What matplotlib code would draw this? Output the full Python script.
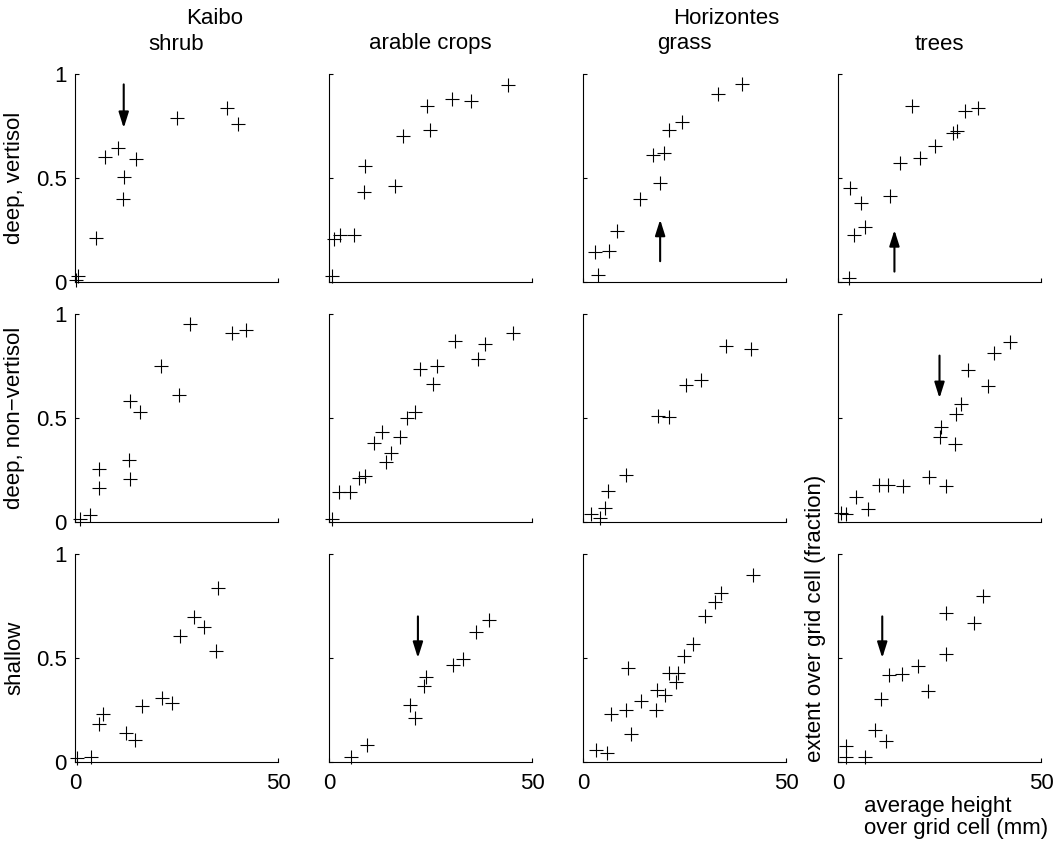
import matplotlib
matplotlib.use("Agg")
import matplotlib.pyplot as plt

plt.rcParams['font.family'] = ['Liberation Sans', 'DejaVu Sans']
plt.rcParams['font.size'] = 16

W, H = 1056, 847

# row / column labels
sites = ['Kaibo', 'Horizontes']
cover = ['shrub', 'arable crops', 'grass', 'trees']
soils = ['deep, vertisol', 'deep, non\u2212vertisol', 'shallow']

# average height (mm) and extent (fraction) per panel, row = soil, col = cover
shrub_vert_x = [0.2, 0.8, 5.1, 7.4, 10.5, 15.0, 12.0, 11.7, 25.0, 37.4, 40.1]
shrub_vert_y = [0.01, 0.03, 0.21, 0.60, 0.645, 0.59, 0.505, 0.40, 0.79, 0.835, 0.76]
crops_vert_x = [0.8, 1.3, 2.7, 6.2, 8.5, 8.9, 16.3, 18.3, 24.1, 24.9, 30.3, 35.0, 44.0]
crops_vert_y = [0.03, 0.205, 0.228, 0.228, 0.432, 0.557, 0.462, 0.70, 0.846, 0.732, 0.88, 0.868, 0.947]
grass_vert_x = [3.7, 2.9, 6.4, 8.4, 14.1, 19.0, 17.2, 20.0, 21.2, 24.4, 33.2, 39.1]
grass_vert_y = [0.032, 0.145, 0.151, 0.244, 0.398, 0.475, 0.61, 0.618, 0.729, 0.769, 0.904, 0.952]
trees_vert_x = [2.7, 2.9, 5.6, 3.9, 6.7, 12.7, 15.3, 20.3, 24.0, 18.3, 28.4, 29.3, 31.4, 34.6]
trees_vert_y = [0.017, 0.453, 0.382, 0.228, 0.263, 0.414, 0.573, 0.594, 0.654, 0.847, 0.717, 0.725, 0.82, 0.836]

shrub_nonv_x = [1.2, 3.6, 6.0, 6.0, 13.6, 16.1, 13.4, 13.6, 21.2, 25.5, 28.3, 38.6, 42.1]
shrub_nonv_y = [0.014, 0.035, 0.254, 0.162, 0.581, 0.53, 0.30, 0.206, 0.752, 0.61, 0.951, 0.908, 0.921]
crops_nonv_x = [0.7, 2.5, 5.2, 7.4, 8.9, 14.1, 15.3, 11.1, 13.0, 17.5, 19.2, 21.2, 22.4, 26.5,
                25.6, 31.1, 36.8, 38.5, 45.2]
crops_nonv_y = [0.013, 0.143, 0.146, 0.21, 0.223, 0.287, 0.331, 0.379, 0.435, 0.411, 0.498, 0.529,
                0.736, 0.748, 0.664, 0.871, 0.785, 0.857, 0.911]
grass_nonv_x = [1.9, 4.3, 5.3, 6.1, 10.6, 18.5, 21.1, 25.3, 29.0, 35.3, 41.4]
grass_nonv_y = [0.04, 0.021, 0.068, 0.148, 0.228, 0.512, 0.507, 0.659, 0.683, 0.848, 0.832]
trees_nonv_x = [0.8, 1.9, 4.5, 7.4, 10.2, 12.3, 16.1, 22.5, 26.6, 25.2, 25.4, 28.7, 29.1, 30.2,
                32.0, 37.0, 38.4, 42.4]
trees_nonv_y = [0.043, 0.038, 0.12, 0.064, 0.179, 0.179, 0.171, 0.214, 0.174, 0.411, 0.459, 0.376,
                0.519, 0.565, 0.732, 0.654, 0.814, 0.865]

shrub_shal_x = [0.4, 4.0, 6.0, 7.0, 12.6, 14.9, 16.5, 21.5, 24.0, 25.9, 29.2, 31.7, 34.7, 35.1]
shrub_shal_y = [0.021, 0.024, 0.182, 0.23, 0.14, 0.108, 0.267, 0.306, 0.283, 0.606, 0.695, 0.648,
                0.532, 0.838]
crops_shal_x = [5.4, 9.3, 20.0, 21.1, 23.3, 23.9, 30.5, 33.1, 36.2, 39.3]
crops_shal_y = [0.024, 0.084, 0.275, 0.211, 0.367, 0.41, 0.465, 0.494, 0.627, 0.684]
grass_shal_x = [3.1, 6.0, 6.9, 10.5, 11.8, 11.0, 14.3, 18.0, 18.2, 20.3, 21.1, 23.3, 22.9, 24.9,
                27.2, 30.1, 32.5, 33.9, 41.8]
grass_shal_y = [0.06, 0.044, 0.232, 0.248, 0.137, 0.451, 0.292, 0.252, 0.348, 0.324, 0.43, 0.427,
                0.383, 0.51, 0.567, 0.70, 0.768, 0.811, 0.899]
trees_shal_x = [2.0, 2.0, 6.7, 9.2, 11.7, 10.7, 12.5, 15.8, 19.7, 22.1, 26.6, 26.6, 33.4, 35.8]
trees_shal_y = [0.079, 0.025, 0.025, 0.155, 0.103, 0.302, 0.416, 0.424, 0.46, 0.34, 0.52, 0.714,
                0.667, 0.798]

panels = [
    [(shrub_vert_x, shrub_vert_y), (crops_vert_x, crops_vert_y),
     (grass_vert_x, grass_vert_y), (trees_vert_x, trees_vert_y)],
    [(shrub_nonv_x, shrub_nonv_y), (crops_nonv_x, crops_nonv_y),
     (grass_nonv_x, grass_nonv_y), (trees_nonv_x, trees_nonv_y)],
    [(shrub_shal_x, shrub_shal_y), (crops_shal_x, crops_shal_y),
     (grass_shal_x, grass_shal_y), (trees_shal_x, trees_shal_y)],
]

# highlighted cells: (row, col, x, y_tail, y_head)
arrows = [
    (0, 0, 12.0, 0.95, 0.74),
    (0, 2, 19.0, 0.10, 0.30),
    (0, 3, 13.9, 0.05, 0.25),
    (1, 3, 25.0, 0.80, 0.595),
    (2, 1, 21.9, 0.70, 0.50),
    (2, 3, 10.9, 0.70, 0.50),
]

col_left = [75, 329, 583, 838]
row_bottom = [282, 522, 762]
ax_w, ax_h = 203, 208

fig = plt.figure(figsize=(W / 100, H / 100), dpi=100)

axes = {}
for r in range(3):
    for c in range(4):
        ax = fig.add_axes([col_left[c] / W, 1 - row_bottom[r] / H, ax_w / W, ax_h / H])
        x, y = panels[r][c]
        ax.plot(x, y, '+', color='k', markersize=9.5, markeredgewidth=0.8, clip_on=False)
        ax.set_xlim(0, 50)
        ax.set_ylim(0, 1)
        ax.set_xticks([0, 50])
        ax.set_yticks([0, 0.5, 1])
        ax.set_yticklabels(['0', '0.5', '1'])
        for s in ['top', 'right']:
            ax.spines[s].set_visible(False)
        for s in ['left', 'bottom']:
            ax.spines[s].set_linewidth(0.8)
        ax.tick_params(direction='in', length=3, width=0.8, labelsize=16)
        ax.tick_params(axis='x', pad=8)
        ax.tick_params(axis='y', pad=6)
        if c != 0:
            ax.set_yticklabels([])
        if r != 2:
            ax.set_xticklabels([])
        axes[(r, c)] = ax

for r, c, xa, y0, y1 in arrows:
    axes[(r, c)].annotate('', xy=(xa, y1), xytext=(xa, y0),
                          arrowprops=dict(arrowstyle='-|>,head_length=0.95,head_width=0.3',
                                          color='k', lw=1.5, shrinkA=0, shrinkB=0,
                                          mutation_scale=10))

# site headings and cover-type titles
fig.text(215 / W, 1 - 18 / H, sites[0], ha='center', va='center', fontsize=16)
fig.text(726 / W, 1 - 18 / H, sites[1], ha='center', va='center', fontsize=16)
for c, name in enumerate(cover):
    fig.text((col_left[c] + ax_w / 2) / W, 1 - 44 / H, name, ha='center', va='center',
             fontsize=16)

for r, name in enumerate(soils):
    fig.text(15 / W, 1 - (row_bottom[r] - ax_h / 2) / H, name, rotation=90,
             ha='center', va='center', fontsize=16)

fig.text(815 / W, 1 - 762 / H, 'extent over grid cell (fraction)', rotation=90,
         ha='center', va='bottom', fontsize=16)
fig.text(864 / W, 1 - 796 / H, 'average height\nover grid cell (mm)', ha='left', va='top',
         fontsize=16, linespacing=1.05)

fig.savefig('out.png', dpi=100)
